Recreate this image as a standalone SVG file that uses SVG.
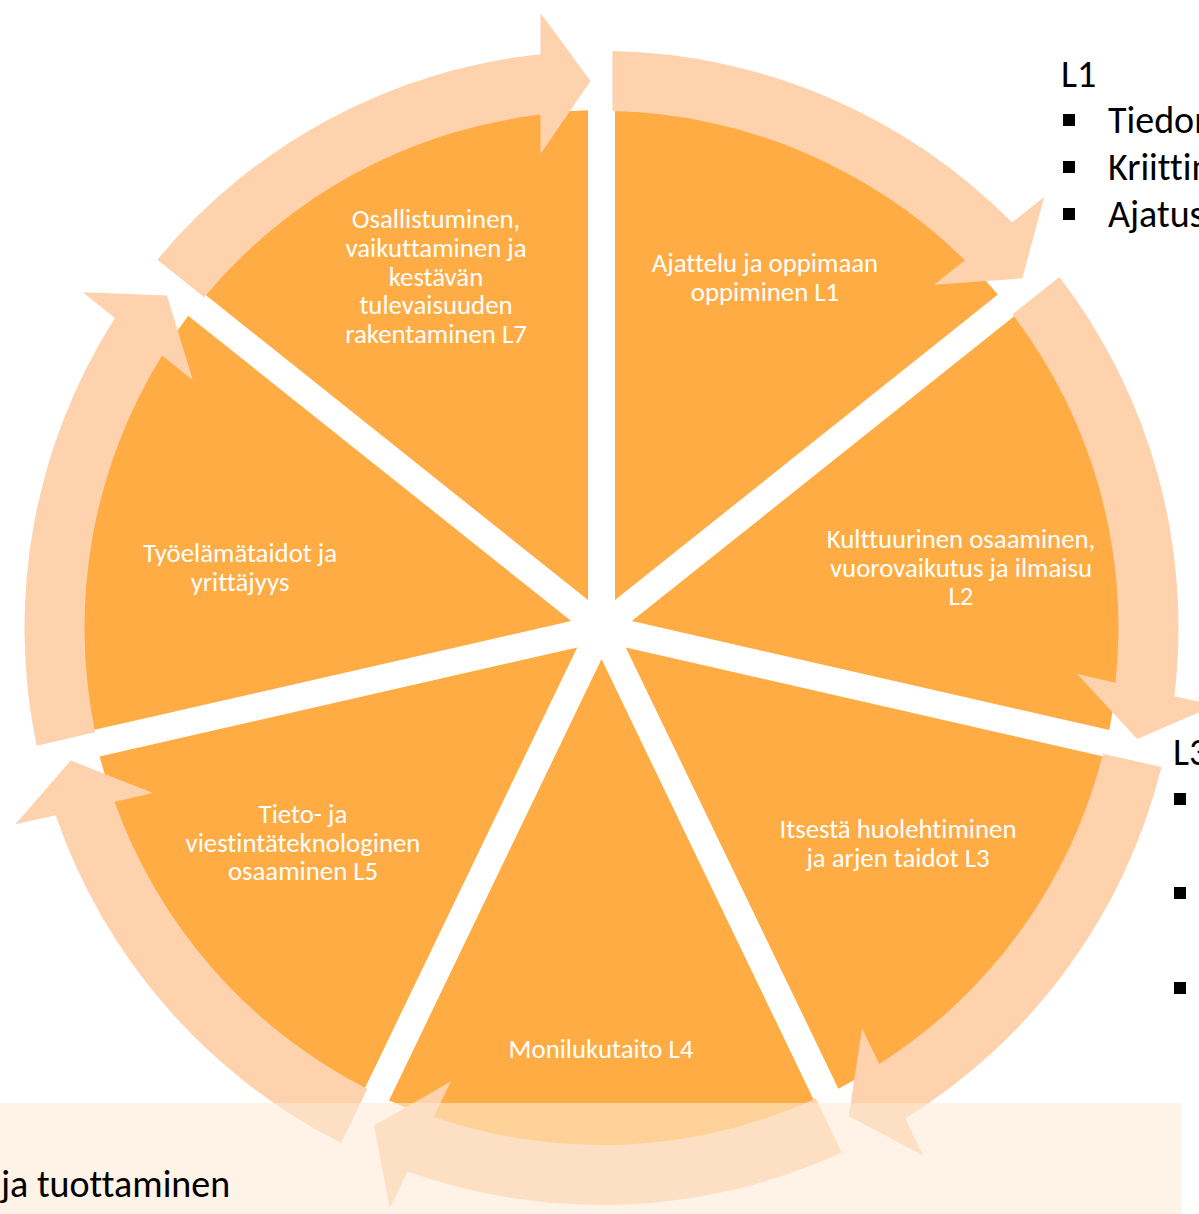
<svg xmlns="http://www.w3.org/2000/svg" width="1199" height="1214" viewBox="0 0 1199 1214">
<style>
.wedge{fill:#FFAC45}
.arrow{fill:#FDD2AD}
.lbl{font-family:Carlito,Calibri,Lato,"Open Sans",sans-serif;font-size:26.8px;fill:#fff;text-anchor:middle;font-variant-ligatures:none}
.side{font-family:Carlito,Calibri,Lato,"Open Sans",sans-serif;font-size:38px;fill:#000;font-variant-ligatures:none}
.bul{fill:#000}
</style>
<rect width="1199" height="1214" fill="#fff"/>
<g id="node-L1">
<path class="wedge" d="M615,600 L615,110.18 A518,518 0 0 1 997.93,294.59 Z"/>
<text class="lbl" x="765" y="272">Ajattelu ja oppimaan</text>
<text class="lbl" x="765" y="300.5">oppiminen L1</text>
</g>
<g id="node-L2">
<path class="wedge" d="M631.8,621.1 L1014.77,315.69 A518,518 0 0 1 1109.34,730.07 Z"/>
<text class="lbl" x="961" y="548">Kulttuurinen osaaminen,</text>
<text class="lbl" x="961" y="577">vuorovaikutus ja ilmaisu</text>
<text class="lbl" x="961" y="605">L2</text>
</g>
<g id="node-L3">
<path class="wedge" d="M625.8,647.4 L1103.34,756.39 A518,518 0 0 1 838.33,1088.68 Z"/>
<text class="lbl" x="898" y="838">Itsestä huolehtiminen</text>
<text class="lbl" x="898" y="867">ja arjen taidot L3</text>
</g>
<g id="node-L4">
<path class="wedge" d="M601.5,659.1 L814.01,1100.4 A518,518 0 0 1 388.99,1100.4 Z"/>
<text class="lbl" x="601" y="1058">Monilukutaito L4</text>
</g>
<g id="node-L5">
<path class="wedge" d="M577.2,647.4 L364.67,1088.68 A518,518 0 0 1 99.66,756.39 Z"/>
<text class="lbl" x="303" y="823">Tieto- ja</text>
<text class="lbl" x="303" y="852">viestintäteknologinen</text>
<text class="lbl" x="303" y="880">osaaminen L5</text>
</g>
<g id="node-L6">
<path class="wedge" d="M571.2,621.1 L93.66,730.07 A518,518 0 0 1 188.23,315.69 Z"/>
<text class="lbl" x="240" y="562">Työelämätaidot ja</text>
<text class="lbl" x="240" y="591">yrittäjyys</text>
</g>
<g id="node-L7">
<path class="wedge" d="M588,600 L205.07,294.59 A518,518 0 0 1 588,110.18 Z"/>
<text class="lbl" x="436" y="228">Osallistuminen,</text>
<text class="lbl" x="436" y="257">vaikuttaminen ja</text>
<text class="lbl" x="436" y="285.5">kestävän</text>
<text class="lbl" x="436" y="314">tulevaisuuden</text>
<text class="lbl" x="436" y="343">rakentaminen L7</text>
</g>
<g id="connectors">
<path class="arrow" d="M612.5,51.1 A577,577 0 0 1 1012.06,222.57 L1044.3,196.86 L1022.3,278.35 L934.06,284.78 L964.86,260.22 A517,517 0 0 0 612.5,111.12 Z"/>
<path class="arrow" d="M1059.4,276.91 A577,577 0 0 1 1174.45,696.21 L1214.65,705.38 L1137.24,739 L1077.19,674 L1115.59,682.77 A517,517 0 0 0 1012.48,314.33 Z"/>
<path class="arrow" d="M1161.49,767.09 A577,577 0 0 1 905.41,1118.48 L923.3,1155.63 L848.74,1116.06 L862.12,1028.59 L879.21,1064.08 A517,517 0 0 0 1102.97,753.74 Z"/>
<path class="arrow" d="M841.9,1152.54 A577,577 0 0 1 407.51,1171.42 L389.62,1208.57 L374.08,1125.6 L450.8,1081.53 L433.71,1117.02 A517,517 0 0 0 815.86,1098.46 Z"/>
<path class="arrow" d="M341.28,1143 A577,577 0 0 1 55.69,815.15 L15.49,824.32 L70.66,760.44 L152.95,792.94 L114.55,801.71 A517,517 0 0 0 367.32,1088.92 Z"/>
<path class="arrow" d="M36.61,745.65 A577,577 0 0 1 114.88,317.95 L82.64,292.24 L166.98,295.55 L192.88,380.16 L162.08,355.6 A517,517 0 0 0 95.13,732.3 Z"/>
<path class="arrow" d="M157.32,259.71 A577,577 0 0 1 540.5,54.23 L540.5,13 L590.5,81 L540.5,154 L540.5,114.61 A517,517 0 0 0 204.24,297.13 Z"/>
</g>
<g id="background-text">
<rect x="0" y="1103" width="1182" height="111" fill="#FDEBD5" fill-opacity="0.59"/>
<text class="side" x="1" y="1197">ja tuottaminen</text>
<text class="side" x="1061" y="87">L1</text>
<rect class="bul" x="1063" y="114" width="12" height="12"/>
<rect class="bul" x="1063" y="161" width="12" height="12"/>
<rect class="bul" x="1063" y="208" width="12" height="12"/>
<text class="side" x="1108" y="133">Tiedon</text>
<text class="side" x="1108" y="180">Kriittin</text>
<text class="side" x="1108" y="227">Ajatus</text>
<text class="side" x="1173" y="765">L3</text>
<rect class="bul" x="1174" y="793" width="12" height="12"/>
<rect class="bul" x="1174" y="887" width="12" height="12"/>
<rect class="bul" x="1174" y="982" width="12" height="12"/>
</g>
</svg>
